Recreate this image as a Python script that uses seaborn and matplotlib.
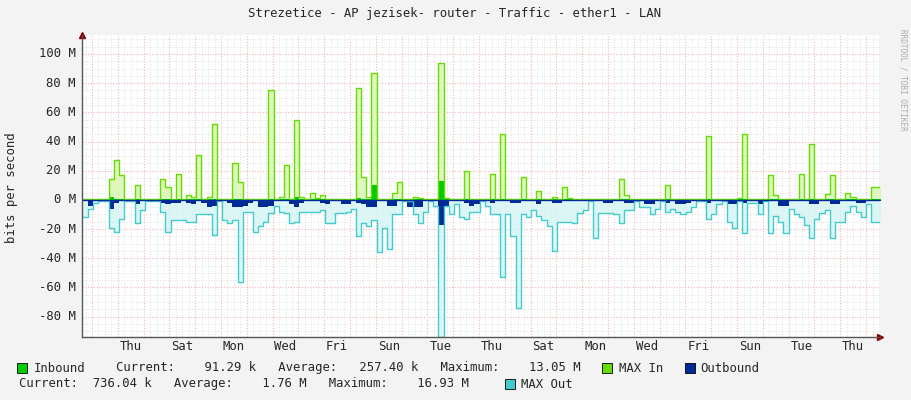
import numpy as np
import pandas as pd
import seaborn as sns
import matplotlib.pyplot as plt
from matplotlib.ticker import MultipleLocator

# ~4.8 h samples starting Tue evening, values in Mbit/s
t_start = -0.349
t_step = 0.1996

max_in = [0.5, 0.5, 0.5, 0.5, 0.5, 14, 27, 17, 0.5, 0.5,
          10, 0.5, 0.5, 0.5, 0.5, 14, 9, 0.5, 18, 0.5,
          3, 2, 31, 0.5, 2, 52, 0.5, 0.5, 0.5, 25,
          12, 0.5, 0.5, 0.5, 0.5, 0.5, 75, 0.5, 2, 24,
          0.5, 55, 2, 0.5, 5, 1, 3, 0.5, 0.5, 0.5,
          0.5, 0.5, 0.5, 77, 16, 2, 87, 0.5, 0.5, 0.5,
          5, 12, 0.5, 0.5, 2, 1, 0.5, 0.5, 0.5, 94,
          1, 0.5, 0.5, 0.5, 20, 0.5, 0.5, 0.5, 0.5, 18,
          0.5, 45, 0.5, 0.5, 0.5, 16, 0.5, 0.5, 6, 0.5,
          0.5, 2, 0.5, 9, 1, 0.5, 0.5, 0.5, 0.5, 0.5,
          0.5, 0.5, 0.5, 0.5, 14, 3, 0.5, 0.5, 0.5, 0.5,
          0.5, 0.5, 0.5, 10, 0.5, 0.5, 0.5, 0.5, 0.5, 0.5,
          0.5, 44, 0.5, 0.5, 0.5, 0.5, 0.5, 1, 45, 0.5,
          0.5, 0.5, 0.5, 17, 3, 0.5, 0.5, 0.5, 0.5, 18,
          0.5, 38, 0.5, 0.5, 4, 17, 0.5, 0.5, 5, 2,
          0.5, 0.5, 0.5, 9, 9]

max_out = [12, 6, 2, 0.5, 0.5, 19, 22, 13, 1, 0.5,
           16, 7, 0.5, 0.5, 0.5, 8, 22, 14, 14, 14,
           15, 15, 10, 10, 10, 24, 1, 14, 16, 14,
           56, 8, 8, 22, 18, 15, 9, 4, 8, 9,
           16, 15, 8, 8, 8, 8, 7, 16, 16, 9,
           9, 8, 6, 25, 16, 18, 14, 36, 19, 34,
           10, 10, 0.5, 0.5, 10, 16, 8, 0.5, 4, 94,
           4, 10, 3, 12, 13, 8, 8, 0.5, 4, 10,
           10, 53, 10, 25, 74, 10, 12, 7, 11, 14,
           18, 35, 15, 15, 15, 16, 9, 7, 0.5, 26,
           9, 9, 9, 10, 16, 7, 7, 1, 5, 5,
           10, 6, 1, 8, 6, 8, 10, 8, 5, 1,
           0.5, 13, 10, 3, 1, 15, 19, 1, 23, 2,
           2, 10, 1, 23, 11, 15, 23, 6, 10, 12,
           17, 26, 13, 9, 7, 26, 15, 15, 8, 4,
           8, 12, 3, 15, 15]

outbound = [1, 4, 1, 0.3, 0.3, 6, 2, 1, 0.3, 0.3,
            3, 1, 0.3, 0.3, 0.3, 2, 3, 2, 2, 1,
            2, 3, 1, 2, 5, 4, 0.3, 1, 2, 5,
            5, 4, 2, 1, 5, 5, 4, 1, 1, 1,
            3, 5, 2, 1, 1, 1, 2, 3, 1, 1,
            3, 3, 1, 2, 3, 5, 5, 1, 1, 4,
            4, 1, 0.3, 5, 5, 5, 1, 0.3, 1, 17,
            4, 1, 1, 1, 2, 4, 3, 1, 1, 2,
            1, 1, 1, 2, 2, 1, 1, 1, 3, 1,
            1, 2, 2, 1, 1, 1, 1, 1, 0.3, 1,
            1, 2, 2, 1, 1, 2, 2, 1, 1, 3,
            3, 1, 1, 2, 1, 3, 3, 2, 1, 1,
            1, 2, 1, 0.3, 0.3, 3, 3, 0.3, 2, 1,
            1, 3, 1, 1, 1, 4, 4, 1, 1, 1,
            1, 3, 3, 1, 1, 3, 3, 1, 1, 1,
            2, 2, 1, 1, 1]

inbound = [0.3] * 155
inbound[5] = 2
inbound[41] = 2
inbound[53] = 1
inbound[56] = 10
inbound[69] = 13

day_labels = ['Thu', 'Sat', 'Mon', 'Wed', 'Fri', 'Sun', 'Tue', 'Thu',
              'Sat', 'Mon', 'Wed', 'Fri', 'Sun', 'Tue', 'Thu']
y_ticks = [-80, -60, -40, -20, 0, 20, 40, 60, 80, 100]

n = len(max_in)
df = pd.DataFrame({
    't': t_start + t_step * np.arange(n + 1),
    'max_in': max_in + [max_in[-1]],
    'max_out': [-v for v in max_out] + [-max_out[-1]],
    'inbound': inbound + [inbound[-1]],
    'outbound': [-v for v in outbound] + [-outbound[-1]],
})

W, H = 911, 400
sns.set_style('white')
plt.rcParams['font.family'] = ['DejaVu Sans Mono']
fig = plt.figure(figsize=(W / 100, H / 100), dpi=100, facecolor='#f3f3f3')
ax = fig.add_axes([82 / W, 1 - 337 / H, (880 - 82) / W, (337 - 35) / H])
ax.set_facecolor('white')

c_maxin = '#66dd00'
c_maxout = '#44cccc'
ax.fill_between(df['t'], df['max_in'], step='post', color='#d8f5b0', alpha=0.8, lw=0)
ax.fill_between(df['t'], df['max_out'], step='post', color='#d4f4f4', alpha=0.8, lw=0)
sns.lineplot(data=df, x='t', y='max_in', drawstyle='steps-post', color=c_maxin, lw=1, ax=ax)
sns.lineplot(data=df, x='t', y='max_out', drawstyle='steps-post', color=c_maxout, lw=1, ax=ax)
ax.fill_between(df['t'], df['inbound'], step='post', color='#00cc00', lw=0)
ax.fill_between(df['t'], df['outbound'], step='post', color='#002a97', lw=0)
ax.axhline(0, color='#002a97', lw=1)

ax.set_xlim(-0.388, 30.54)
ax.set_ylim(-94, 113)
ax.xaxis.set_major_locator(MultipleLocator(1))
ax.xaxis.set_minor_locator(MultipleLocator(0.25))
ax.yaxis.set_major_locator(MultipleLocator(20))
ax.yaxis.set_minor_locator(MultipleLocator(5))
ax.grid(which='minor', color='#e2e2e2', ls=(0, (1, 1.5)), lw=0.7)
ax.grid(which='major', color='#f5b5b5', ls=(0, (1, 1.5)), lw=0.8)
ax.set_axisbelow(True)
ax.tick_params(which='both', length=0, labelbottom=False, labelleft=False)
for s in ['top', 'right']:
    ax.spines[s].set_visible(False)
for s in ['left', 'bottom']:
    ax.spines[s].set_color('#555555')
    ax.spines[s].set_linewidth(1)
ax.set_xlabel('')
ax.set_ylabel('')
ax.plot(1, 0, '>', color='#880000', ms=4, transform=ax.transAxes, clip_on=False)
ax.plot(0, 1, '^', color='#880000', ms=4, transform=ax.transAxes, clip_on=False)

fs = 8.8


def ptext(x, y, s, **kw):
    fig.text(x / W, 1 - y / H, s, fontsize=fs, va='center', **kw)


# tick labels via data->pixel transform
for v in y_ticks:
    py = H - ax.transData.transform((0, v))[1]
    ptext(76, py, f'{v} M', ha='right')
for i, lab in enumerate(day_labels):
    px = ax.transData.transform((1.5 + 2 * i, 0))[0]
    ptext(px, 347, lab, ha='center')

ptext(455, 13, 'Strezetice - AP jezisek- router - Traffic - ether1 - LAN', ha='center')
fig.text(12 / W, 1 - 188 / H, 'bits per second', fontsize=fs, rotation=90, ha='center', va='center')
fig.text(903 / W, 1 - 80 / H, 'RRDTOOL / TOBI OETIKER', fontsize=5.5, rotation=270,
         ha='center', va='center', color='#aaaaaa')


def swatch(x, y, color):
    fig.patches.append(plt.Rectangle((x / W, 1 - (y + 5) / H), 10 / W, 10 / H,
                                     transform=fig.transFigure, facecolor=color,
                                     edgecolor='black', lw=0.6))


swatch(17, 368, '#00cc00')
ptext(34, 368, 'Inbound')
ptext(116, 368, 'Current:    91.29 k   Average:   257.40 k   Maximum:    13.05 M')
swatch(602, 368, c_maxin)
ptext(619, 368, 'MAX In')
swatch(685, 368, '#002a97')
ptext(700, 368, 'Outbound')
ptext(19, 384, 'Current:  736.04 k   Average:    1.76 M   Maximum:    16.93 M')
swatch(505, 384, c_maxout)
ptext(521, 384, 'MAX Out')

fig.savefig('out.png', dpi=100, facecolor=fig.get_facecolor())
